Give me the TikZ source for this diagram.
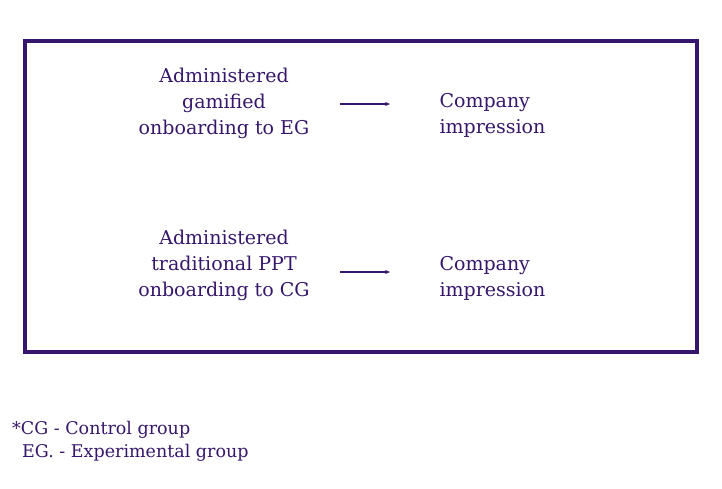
\documentclass[tikz,border=0pt]{standalone}
\usepackage{fontspec}
\setmainfont{DejaVu Serif}
\usetikzlibrary{positioning,arrows.meta}
\definecolor{grape}{HTML}{36176B}

\begin{document}
\begin{tikzpicture}[%
    x=1pt, y=-1pt,
    every node/.style={text=grape, font=\fontsize{19}{26}\selectfont},
    step box/.style={align=center},
    result/.style={align=left, anchor=west},
    flow/.style={-{Stealth[length=5pt,width=4pt]}, draw=grape, line width=1.4pt}
    ]

    \useasboundingbox (0,0) rectangle (722,488);
    \draw[grape, line width=3.5pt] (25,41) rectangle (697,352);

    \node[step box] (gamified) at (224,103) {Administered\\gamified\\onboarding to EG};
    \node[result] (impressionA) at (436,115) {Company\\impression};
    \coordinate (a1) at (340,104);
    \coordinate (a2) at (390,104);
    \draw[flow] (a1) -- (a2);

    \node[step box] (ppt) at (224,265) {Administered\\traditional PPT\\onboarding to CG};
    \node[result] (impressionB) at (436,278) {Company\\impression};
    \coordinate (b1) at (340,272);
    \coordinate (b2) at (390,272);
    \draw[flow] (b1) -- (b2);

    \node[anchor=north west, align=left, inner sep=0pt,
          font=\fontsize{17.5}{23}\selectfont] (legend) at (12,421)
        {*CG - Control group\\\hspace*{10pt}EG. - Experimental group};

\end{tikzpicture}
\end{document}
